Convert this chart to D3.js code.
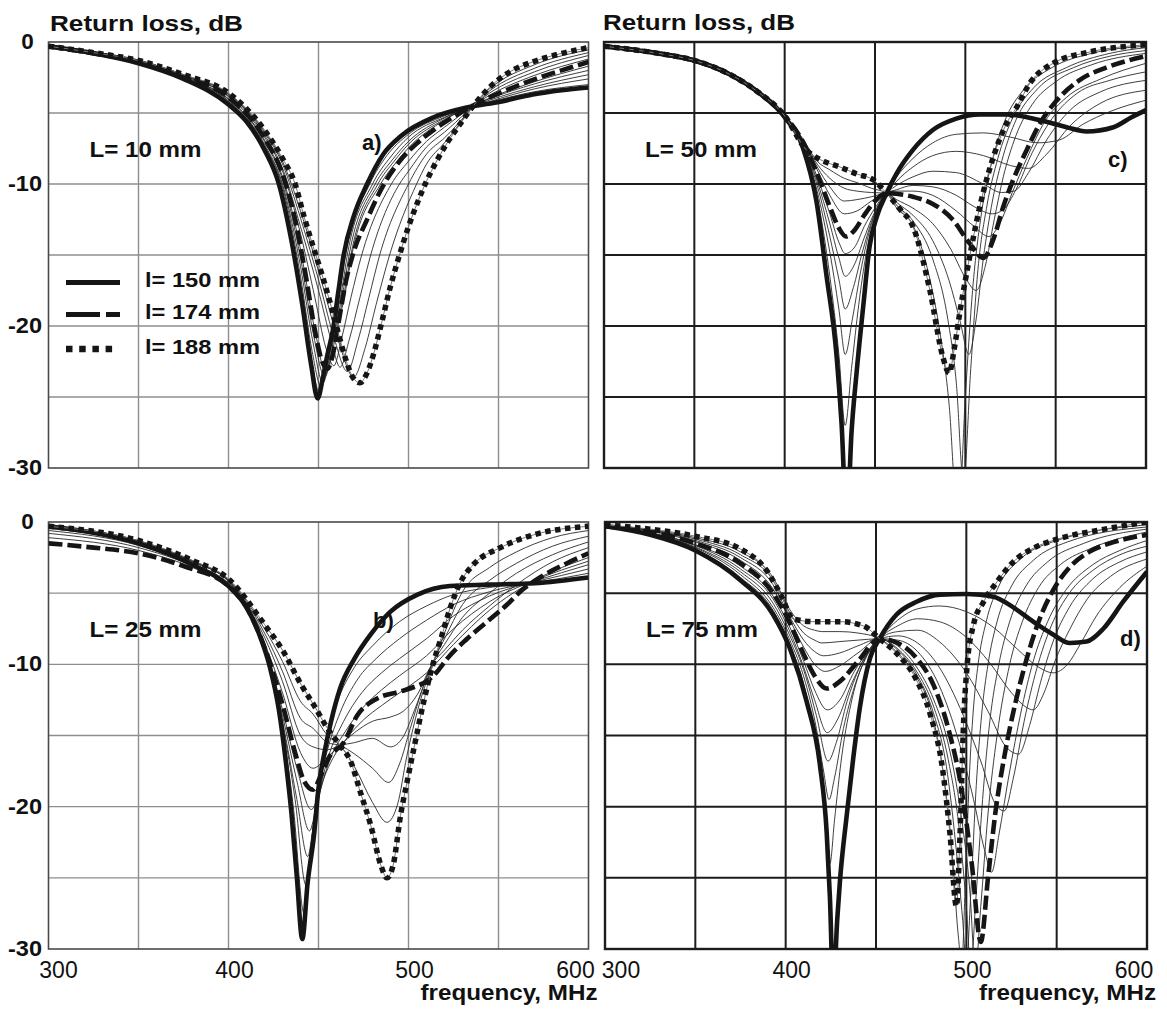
<!DOCTYPE html>
<html>
<head>
<meta charset="utf-8">
<script src="https://d3js.org/d3.v7.min.js"></script>
<style>
  body { margin: 0; background: #fff; }
  svg { display: block; font-family: Arial, "Liberation Sans", sans-serif; }
</style>
</head>
<body>
<svg id="chart" width="1167" height="1013"></svg>
<script>

// ---- data: [frequency MHz, return loss dB] ----
var freqTicks = [300, 400, 500, 600];
var dbTicks = [0, -10, -20, -30];
var panelTags = ["a)", "b)", "c)", "d)"];
var stubLabels = ["L= 10 mm", "L= 25 mm", "L= 50 mm", "L= 75 mm"];
var legendLabels = ["l= 150 mm", "l= 174 mm", "l= 188 mm"];

// panel a, L = 10 mm
var a150 = [[300,-0.3],[325,-0.8],[350,-1.5],[375,-2.6],[400,-4.4],[410,-5.6],[420,-7.6],[428,-10],[435,-14],[441,-18.5],[446,-22.8],[449.5,-25.1],[452.5,-23.6],[455,-22],[458,-20.3],[461,-17.6],[464,-15],[469.5,-12.3],[477,-10],[486,-7.9],[496,-6.6],[514,-5.3],[533,-4.6],[551,-4.2],[569,-3.7],[585,-3.4],[600,-3.2]];
var a174 = [[300,-0.3],[325,-0.8],[350,-1.4],[375,-2.45],[400,-3.9],[420,-6.8],[430,-9.3],[437,-12.5],[443,-16.5],[448,-20.3],[452,-22.5],[455,-23],[458,-22],[461.5,-19.5],[465,-17],[469,-15],[477,-12.5],[486,-10.1],[495,-8.4],[505,-7.1],[515,-6.1],[530,-4.9],[545,-3.9],[560,-3.1],[575,-2.4],[590,-1.8],[600,-1.4]];
var a188 = [[300,-0.3],[325,-0.75],[350,-1.3],[375,-2.3],[400,-3.6],[420,-6.2],[430,-8.2],[437,-10],[442,-12.3],[447,-14.4],[452,-16.4],[457,-18.6],[461,-20.5],[465,-22.3],[469,-23.6],[473,-24],[477,-23.3],[481,-21.8],[485,-19.8],[490,-17.2],[495,-15],[500,-13],[505,-11.3],[510,-9.8],[516,-8.3],[522,-7],[528,-5.9],[536,-4.5],[545,-3.2],[555,-2.2],[569,-1.4],[585,-0.8],[600,-0.4]];
var aThin = [
  [[300,-0.3],[325,-0.8],[350,-1.5],[375,-2.6],[400,-4.3],[420,-7.5],[430,-10.6],[440,-17.2],[446,-22.3],[450.5,-24.7],[456,-21.5],[462,-17.5],[465,-15],[478.5,-10],[488,-8],[500,-6.5],[520,-5.2],[545,-4.25],[570,-3.5],[600,-3]],
  [[300,-0.3],[325,-0.8],[350,-1.5],[375,-2.55],[400,-4.2],[420,-7.3],[430,-10.2],[440,-16.5],[446.5,-21.8],[451.5,-24.3],[457,-21],[463,-17.4],[466,-15],[480,-10],[490,-8.1],[500,-6.7],[520,-5.3],[545,-4.2],[570,-3.3],[600,-2.6]],
  [[300,-0.3],[325,-0.8],[350,-1.45],[375,-2.55],[400,-4.15],[420,-7.2],[430,-10],[440,-15.8],[447,-21.2],[452.5,-24],[458,-20.8],[464,-17.3],[467,-15],[481.5,-10],[491,-8.3],[500,-7],[520,-5.35],[545,-4.1],[570,-3.15],[600,-2.3]],
  [[300,-0.3],[325,-0.8],[350,-1.45],[375,-2.5],[400,-4.05],[420,-7],[430,-9.7],[440,-15.2],[447.5,-20.8],[453.5,-23.6],[459,-20.6],[465,-17.2],[468,-15],[483,-10],[492,-8.4],[500,-7.2],[520,-5.45],[545,-4],[570,-2.95],[600,-2]],
  [[300,-0.3],[325,-0.8],[350,-1.4],[375,-2.5],[400,-4],[420,-6.9],[430,-9.5],[440,-14.6],[448,-20.3],[454.2,-23.3],[460,-20.4],[465.5,-17.2],[468.5,-15],[484.5,-10],[493,-8.5],[500,-7.45],[520,-5.5],[545,-3.95],[570,-2.8],[600,-1.7]],
  [[300,-0.3],[325,-0.8],[350,-1.4],[375,-2.45],[400,-3.85],[420,-6.7],[430,-9.1],[440,-13.5],[448,-18],[454,-21.5],[458.5,-22.8],[463,-20.8],[468,-18],[474,-15],[490.5,-10],[500,-8.4],[510,-7],[520,-6],[545,-3.75],[570,-2.35],[600,-1.2]],
  [[300,-0.3],[325,-0.78],[350,-1.35],[375,-2.4],[400,-3.8],[420,-6.55],[430,-8.9],[440,-13],[450,-17.5],[457,-21],[462,-22.9],[467,-21],[473,-18],[479,-15],[495,-10],[500,-9.1],[510,-7.4],[520,-6.35],[545,-3.6],[570,-2.1],[600,-0.95]],
  [[300,-0.3],[325,-0.77],[350,-1.35],[375,-2.35],[400,-3.7],[420,-6.4],[430,-8.6],[440,-12.4],[451,-17.2],[459,-21],[466,-23.2],[472,-21],[478,-18],[484,-15],[500,-10],[510,-7.9],[520,-6.75],[545,-3.45],[570,-1.85],[600,-0.75]],
  [[300,-0.3],[325,-0.76],[350,-1.3],[375,-2.3],[400,-3.65],[420,-6.3],[430,-8.4],[440,-11.9],[452,-17],[461,-21],[469.5,-23.6],[476,-21.5],[482,-18.5],[489.5,-15],[504.5,-10],[510,-8.6],[520,-7.1],[545,-3.3],[570,-1.6],[600,-0.55]]
];

// panel b, L = 25 mm
var b150 = [[300,-0.3],[350,-1.5],[380,-3],[400,-4.5],[410,-6],[418,-8.2],[423,-10.2],[428,-13.2],[432,-17],[435,-20.5],[438,-25],[441,-29.3],[444,-25.3],[447.5,-22],[450,-18.7],[453,-16.4],[457,-14],[462,-11.7],[470,-9.6],[479,-7.9],[490,-6.3],[505,-5.1],[523,-4.5],[544,-4.4],[570,-4.3],[600,-3.9]];
var b174 = [[300,-1.5],[325,-1.8],[350,-2.2],[375,-3.1],[400,-4.5],[410,-6],[420,-8.8],[430,-12.8],[437,-16.2],[442,-18.2],[447,-18.8],[451,-17.9],[456,-16.5],[464,-15.5],[471.5,-13.6],[482.6,-12.4],[495.6,-11.9],[505,-11.5],[510,-11.2],[516,-10.5],[521.5,-9.6],[532.6,-8.2],[543.7,-7],[554.8,-5.8],[562,-4.9],[573,-3.9],[588,-2.9],[600,-2.2]];
var b188 = [[300,-0.3],[350,-1.3],[380,-2.7],[400,-4],[420,-7.2],[430,-9],[440.7,-11.5],[447.6,-12.9],[455,-14.5],[462,-15.7],[467.8,-16.8],[473.3,-19],[479,-21.3],[484.6,-24.1],[488,-25],[491.5,-24.1],[495.6,-20.6],[499.3,-18.2],[503,-15.9],[508.5,-12.6],[514,-9.8],[518,-8.2],[523,-6.1],[529,-4.2],[536,-3],[551,-1.8],[569.6,-0.9],[600,-0.3]];
var bThin = [
  [[300,-0.35],[350,-1.5],[380,-3],[400,-4.5],[420,-8.9],[430,-14.5],[436,-20],[442,-27.5],[445,-24],[449,-19],[453,-16],[460,-12.8],[470,-10.2],[480,-8.7],[495,-7],[510,-5.9],[525,-5.1],[545,-4.6],[570,-4.25],[600,-3.6]],
  [[300,-0.45],[350,-1.55],[380,-3],[400,-4.5],[420,-8.9],[430,-14.2],[437,-19.5],[443,-25.5],[446,-22.5],[450,-18.8],[455,-16],[462,-13.4],[472,-11],[482,-9.6],[495,-8.2],[510,-6.9],[525,-5.8],[545,-4.9],[570,-4.2],[600,-3.3]],
  [[300,-0.6],[350,-1.65],[380,-3.05],[400,-4.5],[420,-8.9],[430,-14],[438,-19.5],[444,-23.5],[447,-21.5],[451,-18.7],[456,-16.3],[464,-14],[474,-12],[485,-10.6],[495,-9.6],[510,-8.2],[525,-6.6],[545,-5.2],[570,-4.15],[600,-3]],
  [[300,-0.8],[350,-1.8],[380,-3.1],[400,-4.5],[420,-8.9],[430,-13.6],[438,-18.2],[445,-21.7],[448,-20.5],[452,-18.4],[457,-16.5],[465,-14.7],[475,-13],[485,-11.8],[495,-10.8],[510,-9.4],[525,-7.5],[545,-5.6],[570,-4.1],[600,-2.75]],
  [[300,-1.1],[350,-2],[380,-3.2],[400,-4.5],[420,-8.9],[430,-13.2],[438,-17.3],[446,-20.2],[449,-19.6],[453,-18],[458,-16.6],[465,-15.3],[475,-13.9],[485,-12.9],[495,-12],[510,-10.6],[525,-8.6],[545,-6.2],[570,-4.1],[600,-2.5]],
  [[300,-0.3],[350,-1.35],[380,-2.8],[400,-4.2],[420,-8.5],[430,-12],[440,-16.2],[447,-17.3],[455,-16.5],[462,-15.7],[470,-14.8],[480,-14],[490,-13.7],[497,-13.3],[505,-12.1],[513,-10],[520,-9],[530,-7.6],[545,-5.9],[560,-4.4],[580,-2.8],[600,-1.8]],
  [[300,-0.3],[350,-1.33],[380,-2.78],[400,-4.15],[420,-8.1],[430,-11.2],[440,-15],[447,-15.8],[455,-16],[462,-15.7],[470,-15.5],[480,-15.2],[490,-15.8],[497,-15.1],[504,-13],[513,-10],[520,-8.6],[530,-6.7],[545,-5],[560,-3.6],[580,-2.3],[600,-1.4]],
  [[300,-0.3],[350,-1.32],[380,-2.75],[400,-4.1],[420,-7.8],[430,-10.5],[440,-13.8],[447,-14.5],[455,-15.5],[462,-15.7],[470,-16.3],[480,-17.3],[489,-18.3],[495,-17],[501,-14.5],[507,-12],[513,-10],[520,-8.2],[530,-5.8],[545,-4.1],[560,-2.9],[580,-1.7],[600,-1]],
  [[300,-0.3],[350,-1.31],[380,-2.72],[400,-4.05],[420,-7.5],[430,-9.8],[440,-12.6],[447,-13.5],[455,-15],[462,-15.7],[470,-17.2],[480,-19.7],[488,-21.1],[494,-19.8],[499,-16.5],[506,-12.8],[513.5,-10],[520,-7.8],[530,-4.9],[545,-3.2],[560,-2.1],[580,-1.1],[600,-0.6]]
];

// panel c, L = 50 mm
var c150 = [[300,-0.3],[330,-0.8],[350,-1.3],[370,-2.3],[385,-3.5],[400,-5.3],[410,-7.4],[417.7,-11.3],[423,-16.3],[428.8,-22.2],[431.5,-26.9],[434.4,-34],[437,-27.5],[439.8,-23.3],[443.5,-18.6],[447,-14.4],[451,-12.3],[456.4,-10.65],[462,-9.25],[471,-7.6],[482,-6.2],[495,-5.4],[508,-5.1],[523,-5.1],[541,-5.5],[556,-6],[567,-6.3],[582,-6],[592,-5.3],[600,-4.8]];
var c174 = [[300,-0.3],[330,-0.8],[350,-1.3],[370,-2.3],[385,-3.5],[400,-5.2],[410,-7],[418,-9.3],[425,-11.6],[430,-13.1],[434,-13.7],[439,-13.2],[444,-12.2],[450,-11.2],[456.4,-10.65],[471,-10.9],[482,-11.4],[493,-12.5],[502.5,-14.2],[510,-15.2],[515.5,-13.9],[521,-11.6],[526.5,-9.7],[534,-7.6],[541,-5.8],[550,-4.2],[563,-2.7],[578,-1.8],[600,-1]];
var c188 = [[300,-0.3],[330,-0.8],[350,-1.3],[370,-2.3],[385,-3.5],[400,-5.2],[412,-7.6],[420,-8.3],[430.6,-8.8],[440,-9.3],[449,-9.7],[456.4,-10.65],[464,-11.8],[471,-13],[480.4,-17.5],[487.6,-22.2],[491,-23.3],[494,-21.5],[497,-19],[500.7,-16.3],[508,-11.6],[515.5,-8.1],[523,-5.7],[528.4,-4.6],[535.7,-2.9],[548.6,-1.5],[569,-0.7],[600,-0.2]];
var cThin = [
  [[300,-0.3],[330,-0.8],[350,-1.3],[370,-2.3],[385,-3.5],[400,-5.3],[410,-7.35],[418,-10.9],[425,-16.5],[430,-22],[433.5,-27],[437,-23],[441,-18.5],[445,-15],[450,-12.3],[456.4,-10.65],[462,-9.5],[471,-8.2],[482,-7.1],[495,-6.5],[510,-6.4],[525,-6.7],[540,-7.1],[552,-6.9],[565,-5.8],[580,-4.9],[600,-4.1]],
  [[300,-0.3],[330,-0.8],[350,-1.3],[370,-2.3],[385,-3.5],[400,-5.3],[410,-7.3],[418,-10.5],[425,-14.8],[430,-18.8],[433.5,-22],[437.5,-19.5],[442,-16.2],[447,-13.3],[451,-11.8],[456.4,-10.65],[462,-9.8],[471,-8.8],[482,-8],[495,-7.7],[510,-8],[525,-8.7],[535,-8.9],[545,-7.9],[558,-5.9],[575,-4.3],[600,-3.4]],
  [[300,-0.3],[330,-0.8],[350,-1.3],[370,-2.3],[385,-3.5],[400,-5.25],[410,-7.2],[418,-10.1],[425,-13.7],[430,-16.7],[433.5,-18.8],[438,-17.3],[443,-14.8],[448,-12.7],[452,-11.5],[456.4,-10.65],[462,-10.1],[471,-9.5],[482,-9.1],[495,-9.2],[510,-10],[520,-10.6],[527,-10.5],[535,-9.2],[545,-6.9],[558,-4.8],[575,-3.5],[600,-2.7]],
  [[300,-0.3],[330,-0.8],[350,-1.3],[370,-2.3],[385,-3.5],[400,-5.25],[410,-7.15],[418,-9.8],[425,-12.8],[430,-15.2],[433.5,-16.5],[438.5,-15.7],[444,-13.8],[449,-12.2],[456.4,-10.65],[462,-10.4],[471,-10.1],[482,-10.2],[495,-10.8],[505,-11.6],[515,-12.1],[521,-11.8],[528,-10.4],[537,-7.8],[548,-5.4],[562,-3.6],[580,-2.7],[600,-2.1]],
  [[300,-0.3],[330,-0.8],[350,-1.3],[370,-2.3],[385,-3.5],[400,-5.2],[410,-7.1],[418,-9.5],[425,-12.1],[430,-14.1],[433.5,-14.9],[439,-14.4],[444,-13],[450,-11.7],[456.4,-10.65],[462,-10.5],[471,-10.5],[482,-10.8],[495,-11.9],[505,-13],[513,-13.7],[519,-12.8],[526,-10.6],[534,-8.2],[544,-5.6],[556,-3.9],[575,-2.6],[600,-1.5]],
  [[300,-0.3],[330,-0.8],[350,-1.3],[370,-2.3],[385,-3.5],[400,-5.2],[410,-6.95],[418,-9],[425,-10.8],[433,-12.1],[440,-11.9],[448,-11.2],[456.4,-10.65],[462,-11.1],[471,-11.7],[482,-12.8],[492,-14.6],[500,-16.6],[506,-17.5],[511,-15.8],[516,-12.5],[521,-9.5],[528,-6.6],[537,-4.4],[550,-2.8],[570,-1.6],[600,-0.8]],
  [[300,-0.3],[330,-0.8],[350,-1.3],[370,-2.3],[385,-3.5],[400,-5.2],[410,-6.9],[418,-8.8],[425,-10.2],[433,-11.2],[440,-11.1],[448,-10.9],[456.4,-10.65],[462,-11.3],[471,-12.2],[482,-14],[491,-16.8],[497,-19.6],[502,-22],[506,-19.5],[510,-15.2],[515,-11.2],[521,-8],[528,-5.5],[540,-3.3],[560,-1.8],[580,-1],[600,-0.6]],
  [[300,-0.3],[330,-0.8],[350,-1.3],[370,-2.3],[385,-3.5],[400,-5.2],[410,-6.85],[418,-8.6],[425,-9.6],[433,-10.3],[440,-10.5],[448,-10.6],[456.4,-10.65],[462,-11.5],[471,-12.6],[482,-15.3],[490,-19.3],[495,-24],[499,-31],[503,-23],[507,-16],[512,-11.5],[518,-8.2],[526,-5.4],[538,-3.2],[556,-1.8],[580,-0.8],[600,-0.4]],
  [[300,-0.3],[330,-0.8],[350,-1.3],[370,-2.3],[385,-3.5],[400,-5.2],[410,-6.8],[418,-8.4],[425,-9],[433,-9.6],[440,-9.9],[448,-10.3],[456.4,-10.65],[462,-11.7],[471,-12.9],[480,-16.5],[486,-20.5],[491,-25.5],[496,-34],[500,-25],[504,-17.5],[509,-12],[515,-8.3],[522,-5.5],[532,-3.4],[548,-1.8],[570,-0.8],[600,-0.3]]
];

// panel d, L = 75 mm
var d150 = [[300,-0.3],[325,-0.9],[350,-2],[375,-4.1],[393,-6.5],[402.4,-8.9],[411.6,-12.6],[419,-17.1],[422.7,-21.8],[424.5,-26.4],[426.4,-33],[428.5,-28],[430,-25.3],[433.8,-20.6],[437.4,-16.6],[441,-13.1],[446.6,-9.6],[452,-8.2],[461.4,-6.5],[472.5,-5.6],[485.4,-5.1],[500.2,-5.06],[515,-5.25],[526,-6],[537,-7],[548,-7.9],[557.3,-8.5],[566.6,-8.4],[575.8,-7.5],[586.8,-5.6],[600,-3.5]];
var d174 = [[300,-0.3],[325,-0.7],[350,-1.5],[375,-2.9],[393,-5],[402,-7],[410,-9.3],[416,-10.8],[422.7,-11.7],[430,-11.2],[440,-9.8],[452,-8.2],[462,-8.5],[472,-9.5],[482,-11.5],[490,-14.5],[497,-18.5],[503,-24],[508,-29.5],[512,-25],[516,-20.5],[521,-16.5],[527,-12.8],[533,-9.8],[540,-7],[548,-4.8],[557,-3.2],[568,-2.1],[582,-1.4],[600,-0.9]];
var d188 = [[300,-0.2],[325,-0.5],[350,-1],[375,-1.9],[390,-3.5],[398,-5.3],[404,-6.8],[415,-7],[430,-7],[443,-7.3],[452,-8.2],[462,-9.3],[472,-11],[480,-13.5],[487,-17.5],[491,-22],[494.5,-27],[496.5,-22],[498.5,-14],[500.5,-10],[504,-7.2],[509.6,-5.6],[517,-4.2],[526,-2.8],[537,-1.85],[551.8,-1.15],[574,-0.56],[600,0]];
var dThin = [
  [[300,-0.3],[325,-0.85],[350,-1.9],[375,-3.9],[393,-6.2],[402,-8.5],[411,-11.9],[418,-16.5],[421.5,-20],[424.5,-24],[427,-21],[431,-16.5],[437,-12.3],[444,-9.6],[452,-8.2],[462,-6.9],[473,-6.1],[485,-5.9],[500,-6.3],[515,-7.4],[528,-8.9],[540,-10.2],[548,-10.6],[556,-10],[563,-8.6],[572,-6.6],[585,-4.6],[600,-3.1]],
  [[300,-0.3],[325,-0.82],[350,-1.8],[375,-3.7],[393,-6],[402,-8.2],[411,-11.3],[417,-14.5],[421,-17.5],[424,-19.5],[427,-18],[432,-14.5],[438,-11.6],[445,-9.4],[452,-8.2],[462,-7.3],[473,-6.8],[485,-7],[500,-8.1],[513,-9.9],[525,-12],[533,-13],[537,-13.2],[543,-12],[549,-9.8],[557,-7.6],[567,-5.4],[580,-3.8],[600,-2.6]],
  [[300,-0.3],[325,-0.8],[350,-1.75],[375,-3.5],[393,-5.7],[402,-7.9],[411,-10.8],[417,-13.6],[423.5,-16.8],[428,-15.5],[434,-12.6],[441,-10.2],[452,-8.2],[462,-7.7],[473,-7.6],[485,-8.4],[500,-10.6],[512,-13.3],[522,-15.8],[529,-16.3],[535,-14.3],[541,-11.3],[548,-8.4],[557,-6],[570,-4],[585,-2.8],[600,-2.1]],
  [[300,-0.3],[325,-0.77],[350,-1.65],[375,-3.3],[393,-5.4],[402,-7.6],[410,-10.2],[416,-12.5],[423,-14.8],[429,-13.8],[436,-11.5],[444,-9.5],[452,-8.2],[462,-8],[473,-8.5],[485,-10.2],[498,-13.5],[508,-16.8],[516,-19.8],[521,-20.3],[526,-18],[532,-14],[539,-10.3],[547,-7.3],[557,-5],[570,-3.4],[585,-2.3],[600,-1.7]],
  [[300,-0.3],[325,-0.75],[350,-1.6],[375,-3.1],[393,-5.2],[402,-7.3],[410,-9.8],[416,-11.8],[423,-13.2],[430,-12.5],[438,-10.5],[446,-9],[452,-8.2],[462,-8.3],[473,-9.1],[485,-11.5],[496,-15.5],[504,-19.5],[510,-23],[514,-24.6],[518,-22],[524,-17.5],[530,-13.5],[537,-9.8],[545,-7],[555,-4.8],[570,-3],[585,-2],[600,-1.3]],
  [[300,-0.3],[325,-0.65],[350,-1.4],[375,-2.7],[393,-4.7],[402,-6.8],[410,-8.8],[416,-10],[422,-10.5],[430,-10.1],[440,-9.2],[452,-8.2],[462,-8.7],[472,-10.1],[482,-12.5],[490,-15.6],[497,-20.5],[502,-26],[505,-31.5],[508,-27],[512,-20.5],[517,-15],[524,-10],[531,-7],[540,-4.6],[552,-3],[570,-1.8],[600,-0.7]],
  [[300,-0.3],[325,-0.6],[350,-1.3],[375,-2.5],[393,-4.4],[402,-6.6],[410,-8.3],[416,-9.1],[421,-9.4],[430,-9.2],[440,-8.7],[452,-8.2],[462,-8.9],[472,-10.4],[482,-13],[490,-16.7],[496,-21.5],[500,-27],[502.5,-31.5],[505,-27],[509,-19.5],[513,-14],[518,-10],[524,-7],[533,-4.5],[545,-2.8],[565,-1.5],[600,-0.5]],
  [[300,-0.25],[325,-0.58],[350,-1.2],[375,-2.3],[393,-4.1],[402,-6.3],[410,-7.8],[416,-8.3],[420,-8.5],[430,-8.4],[440,-8.3],[452,-8.2],[462,-9],[472,-10.6],[482,-13.5],[489,-17.2],[494,-22.5],[498,-28],[500,-31],[502.5,-26],[505.5,-18.5],[508.5,-13.5],[512,-10],[517,-7],[525,-4.5],[537,-2.7],[556,-1.4],[600,-0.35]],
  [[300,-0.22],[325,-0.55],[350,-1.1],[375,-2.1],[393,-3.9],[402,-6.1],[410,-7.3],[416,-7.6],[420,-7.7],[430,-7.7],[440,-7.8],[452,-8.2],[462,-9.2],[472,-10.8],[481,-13.5],[487,-17.4],[492,-23],[495.5,-29],[497.5,-31],[499.5,-25],[502,-17],[504,-13],[506.5,-10],[511,-7],[518,-4.5],[530,-2.6],[550,-1.3],[600,-0.2]]
];

// ---- layout ----
var svg = d3.select("#chart");

var panels = [
  {x0: 48.5, x1: 588.5, y0: 42, y1: 468, solid: a150, dash: a174, dot: a188, thin: aThin, grid: "#8e8e8e", frame: "#4a4a4a", gw: 1.4, fw: 1.6},
  {x0: 48.5, x1: 588.5, y0: 522, y1: 949, solid: b150, dash: b174, dot: b188, thin: bThin, grid: "#8e8e8e", frame: "#4a4a4a", gw: 1.4, fw: 1.6},
  {x0: 604, x1: 1146, y0: 42, y1: 468, solid: c150, dash: c174, dot: c188, thin: cThin, grid: "#1c1c1c", frame: "#1c1c1c", gw: 2, fw: 2.4},
  {x0: 605, x1: 1147, y0: 522, y1: 949, solid: d150, dash: d174, dot: d188, thin: dThin, grid: "#1c1c1c", frame: "#1c1c1c", gw: 2, fw: 2.4}
];

// text helper; the scanned original has slightly stretched lettering
function label(x, y, str, size, weight, width, anchor) {
  var t = svg.append("text")
    .attr("x", x).attr("y", y)
    .attr("font-size", size + "px")
    .attr("font-weight", weight)
    .attr("fill", "#111")
    .attr("text-anchor", anchor || "start")
    .text(str);
  if (width) t.attr("textLength", width).attr("lengthAdjust", "spacingAndGlyphs");
  return t;
}

var ink = "#151515";

panels.forEach(function(p, i) {
  var x = d3.scaleLinear().domain([300, 600]).range([p.x0, p.x1]);
  var y = d3.scaleLinear().domain([0, -30]).range([p.y0, p.y1]);
  var g = svg.append("g");

  g.append("clipPath").attr("id", "clip" + i)
    .append("rect").attr("x", p.x0).attr("y", p.y0)
    .attr("width", p.x1 - p.x0).attr("height", p.y1 - p.y0);

  // grid every 50 MHz and 5 dB
  g.selectAll(".vg").data(d3.range(350, 600, 50)).enter().append("line")
    .attr("x1", d => x(d)).attr("x2", d => x(d))
    .attr("y1", p.y0).attr("y2", p.y1)
    .attr("stroke", p.grid).attr("stroke-width", p.gw);
  g.selectAll(".hg").data(d3.range(-5, -30, -5)).enter().append("line")
    .attr("y1", d => y(d)).attr("y2", d => y(d))
    .attr("x1", p.x0).attr("x2", p.x1)
    .attr("stroke", p.grid).attr("stroke-width", p.gw);
  g.append("rect")
    .attr("x", p.x0).attr("y", p.y0)
    .attr("width", p.x1 - p.x0).attr("height", p.y1 - p.y0)
    .attr("fill", "none").attr("stroke", p.frame).attr("stroke-width", p.fw);

  var line = d3.line()
    .x(d => x(d[0])).y(d => y(d[1]))
    .curve(d3.curveMonotoneX);

  var plot = g.append("g").attr("clip-path", "url(#clip" + i + ")");

  plot.selectAll(".thin").data(p.thin).enter().append("path")
    .attr("d", line).attr("fill", "none")
    .attr("stroke", "#2a2a2a").attr("stroke-width", 0.9);

  plot.append("path").attr("d", line(p.solid)).attr("fill", "none")
    .attr("stroke", ink).attr("stroke-width", 4.6).attr("stroke-linejoin", "round");

  plot.append("path").attr("d", line(p.dash)).attr("fill", "none")
    .attr("stroke", ink).attr("stroke-width", 4.6)
    .attr("stroke-dasharray", "14,5");

  plot.append("path").attr("d", line(p.dot)).attr("fill", "none")
    .attr("stroke", "#777").attr("stroke-width", 1);
  plot.append("path").attr("d", line(p.dot)).attr("fill", "none")
    .attr("stroke", ink).attr("stroke-width", 5.5)
    .attr("stroke-dasharray", "5.5,4.5");

  // y tick labels only on the left column
  if (i < 2) {
    dbTicks.forEach(function(v) {
      label(v == 0 ? 27.5 : 25, y(v) + 7, String(v), 22.5, "bold", v == 0 ? null : 34, "middle");
    });
  }
  // x tick labels only on the bottom row
  if (i % 2 == 1) {
    freqTicks.forEach(function(v, k) {
      var dx = [i == 1 ? 10 : 16, 6, 6, -13][k];
      label(x(v) + dx, 978, String(v), 23, "normal", null, "middle");
    });
    label(p.x1 - 168, 1000, "frequency, MHz", 22, "bold", 177);
  }
  label(p.x0 + 41, p.y0 + 115, stubLabels[i], 22, "bold", 112);
});

label(50, 31, "Return loss, dB", 22.5, "bold", 193);
label(603, 30, "Return loss, dB", 22.5, "bold", 192);

label(362, 150, panelTags[0], 22, "bold");
label(373, 628, panelTags[1], 22, "bold");
label(1108, 167, panelTags[2], 22, "bold");
label(1120, 646, panelTags[3], 22, "bold");

// legend in panel a
var legendStyle = [
  {w: 5, dash: null, y: 282.5, len: 54},
  {w: 5, dash: "34,6", y: 314.5, len: 54},
  {w: 6.5, dash: "6.5,6.7", y: 349, len: 47}
];
legendLabels.forEach(function(s, k) {
  var st = legendStyle[k];
  svg.append("line")
    .attr("x1", 66).attr("x2", 66 + st.len)
    .attr("y1", st.y).attr("y2", st.y)
    .attr("stroke", ink).attr("stroke-width", st.w)
    .attr("stroke-dasharray", st.dash);
  label(145, st.y + 4 + (k == 2 ? 1 : 0), s, 21, "bold", 115);
});

</script>
</body>
</html>
